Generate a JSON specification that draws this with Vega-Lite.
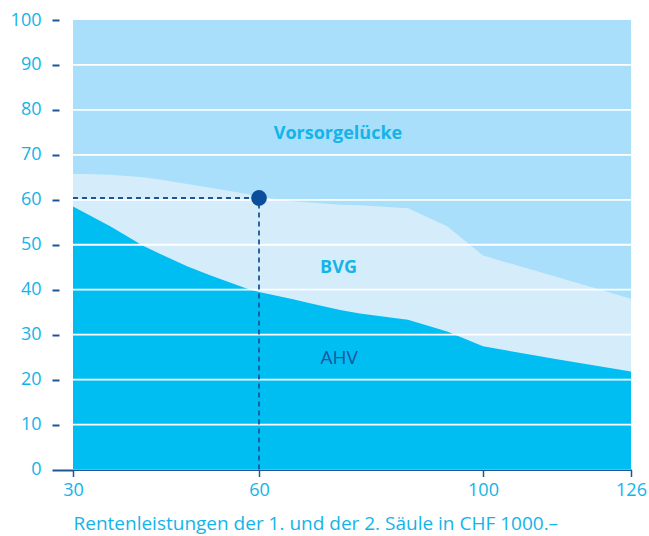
{
  "$schema": "https://vega.github.io/schema/vega-lite/v6.json",
  "width": 558,
  "height": 449.5,
  "autosize": {"type": "none"},
  "padding": {"left": 73, "top": 20, "right": 18, "bottom": 66.5},
  "background": "white",
  "config": {"view": {"stroke": null}, "font": "Open Sans"},
  "datasets": {
    "curve": [
      {"x": 30, "ahv": 58.5, "total": 65.8},
      {"x": 36, "ahv": 54.1, "total": 65.6},
      {"x": 41.3, "ahv": 49.8, "total": 65.0},
      {"x": 44, "ahv": 48.0, "total": 64.5},
      {"x": 48.4, "ahv": 45.2, "total": 63.5},
      {"x": 52.1, "ahv": 43.2, "total": 62.7},
      {"x": 58.1, "ahv": 40.2, "total": 61.3},
      {"x": 60, "ahv": 39.5, "total": 60.7},
      {"x": 66.1, "ahv": 37.9, "total": 59.7},
      {"x": 69.1, "ahv": 37.0, "total": 59.4},
      {"x": 74.5, "ahv": 35.5, "total": 58.9},
      {"x": 78, "ahv": 34.7, "total": 58.8},
      {"x": 86.6, "ahv": 33.3, "total": 58.1},
      {"x": 93.6, "ahv": 30.7, "total": 54.1},
      {"x": 100, "ahv": 27.4, "total": 47.6},
      {"x": 113, "ahv": 24.5, "total": 42.8},
      {"x": 126, "ahv": 21.8, "total": 38.0}
    ],
    "grid": [{"g": 10}, {"g": 20}, {"g": 30}, {"g": 40}, {"g": 50}, {"g": 60}, {"g": 70}, {"g": 80}, {"g": 90}],
    "marker": [{"x": 60, "y": 60.4, "x0": 30, "y0": 0}],
    "labels": [
      {"label": "Vorsorgelücke", "x": 74.1, "y": 74.6, "kind": "gap"},
      {"label": "BVG", "x": 74.2, "y": 44.8, "kind": "bvg"},
      {"label": "AHV", "x": 74.3, "y": 24.8, "kind": "ahv"}
    ]
  },
  "layer": [
    {
      "data": {"name": "curve"},
      "mark": {"type": "area", "color": "#a9dffa"},
      "encoding": {
        "x": {
          "field": "x", "type": "quantitative",
          "scale": {"domain": [30, 60, 100, 126], "range": [0, 186, 410, 558], "nice": false, "zero": false},
          "axis": {
            "values": [30, 60, 100, 126],
            "title": "Rentenleistungen der 1. und der 2. Säule in CHF 1000.–",
            "titleColor": "#12b4e9", "titleFontSize": 19, "titleFontWeight": "normal",
            "titleAnchor": "start", "titlePadding": 15, "titleFont": "Open Sans",
            "labelColor": "#12b4e9", "labelFontSize": 18, "labelPadding": 5, "labelFont": "Open Sans",
            "labelFlush": false,
            "domainColor": "#1d5597", "domainWidth": 2,
            "tickColor": "#1d5597", "tickSize": 7, "tickWidth": 1.5,
            "grid": false
          }
        },
        "y": {
          "datum": 100, "type": "quantitative",
          "scale": {"domain": [0, 100], "nice": false},
          "axis": {
            "values": [0, 10, 20, 30, 40, 50, 60, 70, 80, 90, 100],
            "title": null, "domain": false, "grid": false,
            "labelColor": "#12b4e9", "labelFontSize": 18, "labelPadding": 11, "labelFont": "Open Sans",
            "tickColor": "#1d5597", "tickWidth": 2, "tickSize": 21,
            "tickDash": {"condition": {"test": "datum.value === 0", "value": [22, 1]}, "value": [0, 14, 7, 0]}
          }
        },
        "y2": {"datum": 0}
      }
    },
    {
      "data": {"name": "curve"},
      "mark": {"type": "area", "color": "#d5edfa"},
      "encoding": {
        "x": {"field": "x", "type": "quantitative"},
        "y": {"field": "total", "type": "quantitative"},
        "y2": {"datum": 0}
      }
    },
    {
      "data": {"name": "curve"},
      "mark": {"type": "area", "color": "#00bef2"},
      "encoding": {
        "x": {"field": "x", "type": "quantitative"},
        "y": {"field": "ahv", "type": "quantitative"},
        "y2": {"datum": 0}
      }
    },
    {
      "data": {"name": "grid"},
      "mark": {"type": "rule", "color": "white", "strokeWidth": 1.8},
      "encoding": {
        "y": {"field": "g", "type": "quantitative"}
      }
    },
    {
      "data": {"name": "marker"},
      "mark": {"type": "rule", "color": "#1d5597", "strokeWidth": 1.8, "strokeDash": [5, 4]},
      "encoding": {
        "x": {"field": "x0", "type": "quantitative"},
        "x2": {"field": "x"},
        "y": {"field": "y", "type": "quantitative"}
      }
    },
    {
      "data": {"name": "marker"},
      "mark": {"type": "rule", "color": "#1d5597", "strokeWidth": 1.8, "strokeDash": [5, 4]},
      "encoding": {
        "x": {"field": "x", "type": "quantitative"},
        "y": {"field": "y0", "type": "quantitative"},
        "y2": {"field": "y"}
      }
    },
    {
      "data": {"name": "marker"},
      "mark": {"type": "point", "filled": true, "opacity": 1, "color": "#0b4f9c", "size": 250},
      "encoding": {
        "x": {"field": "x", "type": "quantitative"},
        "y": {"field": "y", "type": "quantitative"}
      }
    },
    {
      "data": {"name": "labels"},
      "transform": [{"filter": "datum.kind !== 'ahv'"}],
      "mark": {"type": "text", "fontSize": 18, "font": "Open Sans", "fontWeight": "bold", "align": "center", "baseline": "middle", "color": "#12b4e9"},
      "encoding": {
        "x": {"field": "x", "type": "quantitative"},
        "y": {"field": "y", "type": "quantitative"},
        "text": {"field": "label"}
      }
    },
    {
      "data": {"name": "labels"},
      "transform": [{"filter": "datum.kind === 'ahv'"}],
      "mark": {"type": "text", "fontSize": 19, "font": "Open Sans", "fontWeight": "normal", "align": "center", "baseline": "middle", "color": "#1a56a0"},
      "encoding": {
        "x": {"field": "x", "type": "quantitative"},
        "y": {"field": "y", "type": "quantitative"},
        "text": {"field": "label"}
      }
    }
  ]
}
